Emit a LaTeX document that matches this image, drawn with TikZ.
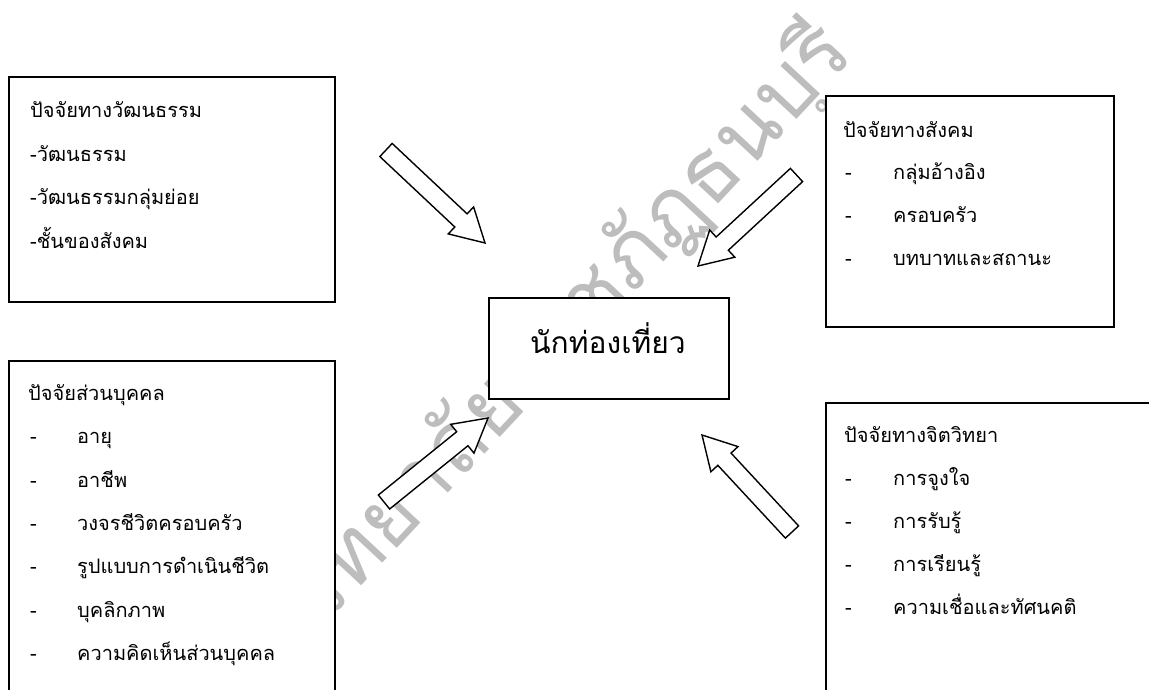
\documentclass[tikz,border=0pt]{standalone}
\usepackage{fontspec}
\newfontfamily\thai[Script=Thai]{Loma}
\usetikzlibrary{calc}
\tikzset{
  box/.style={draw=black, line width=1.5pt, fill=white, inner sep=0pt, anchor=north west},
  txt/.style={font=\thai\fontsize{20}{23}\selectfont, inner sep=0pt, anchor=base west},
  ctxt/.style={font=\thai\fontsize{30}{34}\selectfont, inner sep=0pt, anchor=base},
  wm/.style={font=\thai\fontsize{86}{94}\selectfont, text=black!26, inner sep=0pt},
  blk/.style={draw=black, line width=1.4pt, fill=white, line join=miter},
}
\newcommand{\blockarrow}[2]{%
  \draw[blk] ($(#1)!9pt!90:(#2)$) -- ($($(#2)!33pt!(#1)$)!9pt!90:(#2)$)
    -- ($($(#2)!33pt!(#1)$)!18.5pt!90:(#2)$) -- (#2)
    -- ($($(#2)!33pt!(#1)$)!18.5pt!-90:(#2)$) -- ($($(#2)!33pt!(#1)$)!9pt!-90:(#2)$)
    -- ($(#1)!9pt!-90:(#2)$) -- cycle;}
\begin{document}
\begin{tikzpicture}[x=1pt,y=-1pt]
\useasboundingbox (0,0) rectangle (1149,689);
\clip (0,0) rectangle (1149,689);
\fill[white] (0,0) rectangle (1149,689);
% watermark
\node[wm, rotate=47, anchor=base east] (wmark) at (856,56) {มหาวิทยาลัยราชภัฏธนบุรี};
% boxes
\node[box, minimum width=326pt, minimum height=225pt] (cult) at (8,76) {};
\node[box, minimum width=288pt, minimum height=231pt] (soc) at (825,95) {};
\node[box, minimum width=326pt, minimum height=360pt] (pers) at (8,360) {};
\node[box, minimum width=340pt, minimum height=320pt] (psy) at (825,402) {};
\node[box, minimum width=240pt, minimum height=101pt] (tour) at (488,297) {};
% centre text
\node[ctxt] (tourt) at (608,353) {นักท่องเที่ยว};
% cultural
\node[txt] (c0) at (30,117) {ปัจจัยทางวัฒนธรรม};
\node[txt] (c1) at (30,161) {-วัฒนธรรม};
\node[txt] (c2) at (30,204) {-วัฒนธรรมกลุ่มย่อย};
\node[txt] (c3) at (30,248) {-ชั้นของสังคม};
% social
\node[txt] (s0) at (843,137) {ปัจจัยทางสังคม};
\node[txt] (s1d) at (845,179) {-};
\node[txt] (s1) at (893,179) {กลุ่มอ้างอิง};
\node[txt] (s2d) at (845,222) {-};
\node[txt] (s2) at (893,222) {ครอบครัว};
\node[txt] (s3d) at (845,265) {-};
\node[txt] (s3) at (893,265) {บทบาทและสถานะ};
% personal
\node[txt] (p0) at (28,400) {ปัจจัยส่วนบุคคล};
\node[txt] (p1d) at (30,443) {-};
\node[txt] (p1) at (77,443) {อายุ};
\node[txt] (p2d) at (30,487) {-};
\node[txt] (p2) at (77,487) {อาชีพ};
\node[txt] (p3d) at (30,530) {-};
\node[txt] (p3) at (77,530) {วงจรชีวิตครอบครัว};
\node[txt] (p4d) at (30,573) {-};
\node[txt] (p4) at (77,573) {รูปแบบการดำเนินชีวิต};
\node[txt] (p5d) at (30,617) {-};
\node[txt] (p5) at (77,617) {บุคลิกภาพ};
\node[txt] (p6d) at (30,660) {-};
\node[txt] (p6) at (77,660) {ความคิดเห็นส่วนบุคคล};
% psychological
\node[txt] (y0) at (844,442) {ปัจจัยทางจิตวิทยา};
\node[txt] (y1d) at (845,485) {-};
\node[txt] (y1) at (893,485) {การจูงใจ};
\node[txt] (y2d) at (845,528) {-};
\node[txt] (y2) at (893,528) {การรับรู้};
\node[txt] (y3d) at (845,571) {-};
\node[txt] (y3) at (893,571) {การเรียนรู้};
\node[txt] (y4d) at (845,614) {-};
\node[txt] (y4) at (893,614) {ความเชื่อและทัศนคติ};
% block arrows
\coordinate (a1s) at (386,150); \coordinate (a1e) at (485,243);
\coordinate (a2s) at (796.5,175); \coordinate (a2e) at (698,266);
\coordinate (a3s) at (384,502); \coordinate (a3e) at (488,418);
\coordinate (a4s) at (792,532); \coordinate (a4e) at (702,435);
\blockarrow{a1s}{a1e}
\blockarrow{a2s}{a2e}
\blockarrow{a3s}{a3e}
\blockarrow{a4s}{a4e}
\end{tikzpicture}
\end{document}
